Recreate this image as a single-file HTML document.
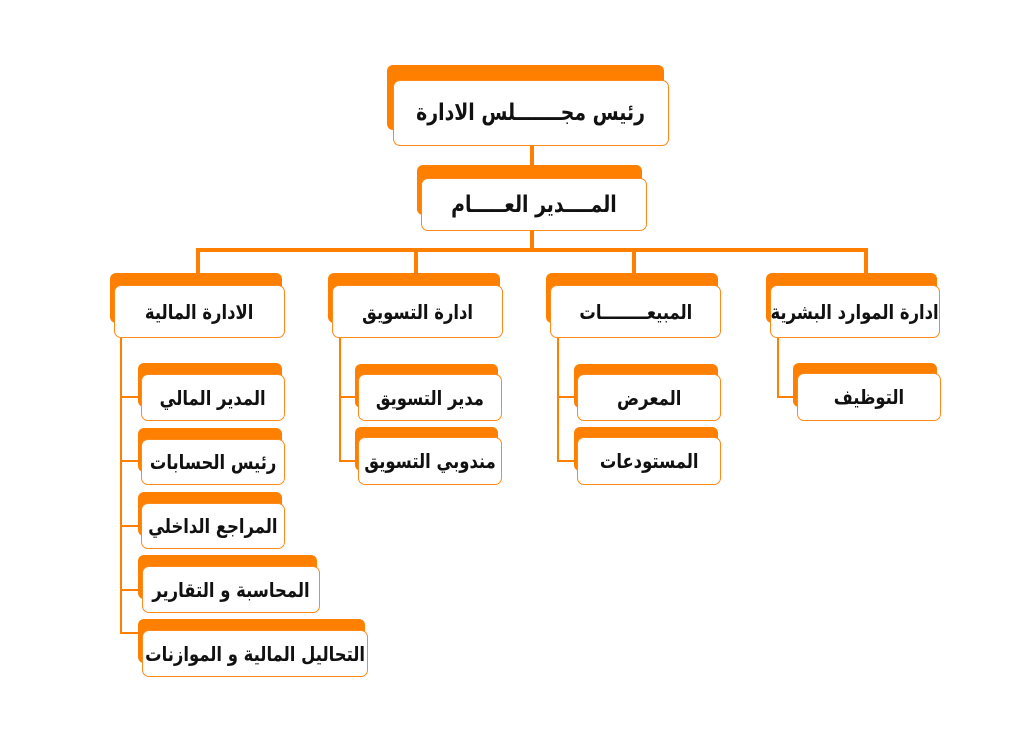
<!DOCTYPE html>
<html><head><meta charset="utf-8"><style>
body{margin:0;width:1024px;height:742px;background:#fff;position:relative;overflow:hidden;font-family:"DejaVu Sans","Liberation Sans",sans-serif;}
.o{position:absolute;background:#ff8000;border-radius:6px 6px 0 6px;}
.w{position:absolute;background:#fff;border:1.5px solid #ff8a1a;border-radius:7px;box-sizing:border-box;display:flex;align-items:center;justify-content:center;direction:rtl;font-weight:bold;color:#111;font-size:20px;white-space:nowrap;}
.w span{display:inline-block;transform:scaleX(.82);}
.l{position:absolute;background:#ff8000;}
</style></head><body>
<div class="l" style="left:530px;top:146px;width:4px;height:22px"></div>
<div class="l" style="left:530px;top:231px;width:4px;height:20px"></div>
<div class="l" style="left:196px;top:248px;width:672px;height:4px"></div>
<div class="l" style="left:196px;top:248px;width:4px;height:27px"></div>
<div class="l" style="left:414px;top:248px;width:4px;height:27px"></div>
<div class="l" style="left:632px;top:248px;width:4px;height:27px"></div>
<div class="l" style="left:864px;top:248px;width:4px;height:27px"></div>
<div class="l" style="left:120px;top:338px;width:2px;height:296px"></div>
<div class="l" style="left:120px;top:396px;width:20px;height:2px"></div>
<div class="l" style="left:120px;top:460px;width:20px;height:2px"></div>
<div class="l" style="left:120px;top:525px;width:20px;height:2px"></div>
<div class="l" style="left:120px;top:589px;width:20px;height:2px"></div>
<div class="l" style="left:120px;top:632px;width:20px;height:2px"></div>
<div class="l" style="left:339px;top:338px;width:2px;height:124px"></div>
<div class="l" style="left:339px;top:396px;width:18px;height:2px"></div>
<div class="l" style="left:339px;top:460px;width:18px;height:2px"></div>
<div class="l" style="left:557px;top:338px;width:2px;height:124px"></div>
<div class="l" style="left:557px;top:396px;width:19px;height:2px"></div>
<div class="l" style="left:557px;top:460px;width:19px;height:2px"></div>
<div class="l" style="left:777px;top:338px;width:2px;height:60px"></div>
<div class="l" style="left:777px;top:396px;width:19px;height:2px"></div>

<div class="o" style="left:387px;top:65px;width:277px;height:65px"></div>
<div class="w" style="left:393px;top:80px;width:276px;height:66px;font-size:23px"><span>رئيس مجـــــــلس الادارة</span></div>

<div class="o" style="left:417px;top:165px;width:225px;height:50px"></div>
<div class="w" style="left:421px;top:178px;width:226px;height:53px;font-size:23px"><span>المــــدير العـــــام</span></div>

<div class="o" style="left:110px;top:273px;width:172px;height:50px"></div>
<div class="w" style="left:114px;top:285px;width:171px;height:53px"><span>الادارة المالية</span></div>
<div class="o" style="left:328px;top:273px;width:172px;height:50px"></div>
<div class="w" style="left:332px;top:285px;width:171px;height:53px"><span>ادارة التسويق</span></div>
<div class="o" style="left:546px;top:273px;width:172px;height:50px"></div>
<div class="w" style="left:550px;top:285px;width:171px;height:53px"><span>المبيعــــــــات</span></div>
<div class="o" style="left:766px;top:273px;width:171px;height:50px"></div>
<div class="w" style="left:770px;top:285px;width:170px;height:53px"><span>ادارة الموارد البشرية</span></div>

<div class="o" style="left:138px;top:363px;width:144px;height:44px"></div>
<div class="w" style="left:141px;top:374px;width:144px;height:47px"><span>المدير المالي</span></div>
<div class="o" style="left:138px;top:428px;width:144px;height:44px"></div>
<div class="w" style="left:141px;top:439px;width:144px;height:46px"><span>رئيس الحسابات</span></div>
<div class="o" style="left:138px;top:492px;width:144px;height:44px"></div>
<div class="w" style="left:141px;top:503px;width:144px;height:46px"><span>المراجع الداخلي</span></div>
<div class="o" style="left:138px;top:555px;width:179px;height:44px"></div>
<div class="w" style="left:142px;top:566px;width:178px;height:47px"><span>المحاسبة و التقارير</span></div>
<div class="o" style="left:138px;top:619px;width:227px;height:44px"></div>
<div class="w" style="left:142px;top:630px;width:226px;height:47px"><span>التحاليل المالية و الموازنات</span></div>

<div class="o" style="left:355px;top:364px;width:143px;height:44px"></div>
<div class="w" style="left:358px;top:374px;width:144px;height:47px"><span>مدير التسويق</span></div>
<div class="o" style="left:355px;top:427px;width:143px;height:44px"></div>
<div class="w" style="left:358px;top:437px;width:144px;height:48px"><span>مندوبي التسويق</span></div>

<div class="o" style="left:574px;top:364px;width:144px;height:44px"></div>
<div class="w" style="left:577px;top:374px;width:144px;height:47px"><span>المعرض</span></div>
<div class="o" style="left:574px;top:427px;width:144px;height:44px"></div>
<div class="w" style="left:577px;top:437px;width:144px;height:48px"><span>المستودعات</span></div>

<div class="o" style="left:793px;top:363px;width:144px;height:44px"></div>
<div class="w" style="left:797px;top:373px;width:144px;height:48px"><span>التوظيف</span></div>
</body></html>
